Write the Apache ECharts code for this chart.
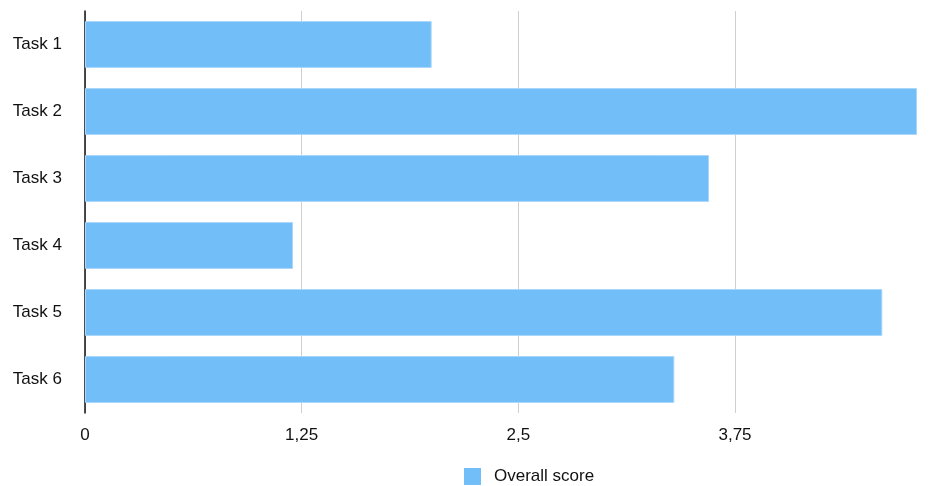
<!DOCTYPE html>
<html>
<head>
<meta charset="utf-8">
<style>
  html, body { margin: 0; padding: 0; background: #fff; }
  #chart { width: 947px; height: 486px; }
</style>
<script src="https://cdn.jsdelivr.net/npm/echarts@6/dist/echarts.min.js"></script>
</head>
<body>
<div id="chart"></div>
<script>
// Task names, top to bottom
const categories = ['Task 1', 'Task 2', 'Task 3', 'Task 4', 'Task 5', 'Task 6'];
// Overall score per task
const scores = [2.0, 4.8, 3.6, 1.2, 4.6, 3.4];
const seriesName = 'Overall score';

const FONT = '"Liberation Sans", Helvetica, Arial, sans-serif';
const chart = echarts.init(document.getElementById('chart'), null, { renderer: 'canvas' });

chart.setOption({
  animation: false,
  backgroundColor: '#ffffff',
  textStyle: { fontFamily: FONT },
  grid: { left: 85, right: 30, top: 11, bottom: 73, containLabel: false },
  legend: {
    data: [seriesName],
    left: 464,
    top: 468,
    padding: 0,
    itemWidth: 17,
    itemHeight: 17,
    icon: 'rect',
    itemStyle: { borderWidth: 0 },
    textStyle: { fontFamily: FONT, fontSize: 17, color: '#111', padding: [0, 0, 0, 8] }
  },
  xAxis: {
    type: 'value',
    min: 0,
    max: 4.8,
    interval: 1.25,
    axisLine: { show: false },
    axisTick: { show: false },
    splitLine: { show: true, showMaxLine: false, lineStyle: { color: '#cfcfcf', width: 1 } },
    axisLabel: {
      show: true,
      showMaxLabel: false,
      margin: 14,
      fontFamily: FONT,
      fontSize: 17,
      color: '#111',
      formatter: v => (Math.abs(v / 1.25 - Math.round(v / 1.25)) < 1e-9 ? String(v).replace('.', ',') : '')
    }
  },
  yAxis: {
    type: 'category',
    data: categories,
    inverse: true,
    axisLine: { show: true, lineStyle: { color: '#111', width: 1.5 } },
    axisTick: { show: false },
    splitLine: { show: false },
    axisLabel: { margin: 23, fontFamily: FONT, fontSize: 17, color: '#111' }
  },
  series: [{
    name: seriesName,
    type: 'bar',
    data: scores,
    barCategoryGap: '30%',
    itemStyle: { color: '#72bef8', borderColor: '#a9d7fb', borderWidth: 1 }
  }]
});
</script>
</body>
</html>
